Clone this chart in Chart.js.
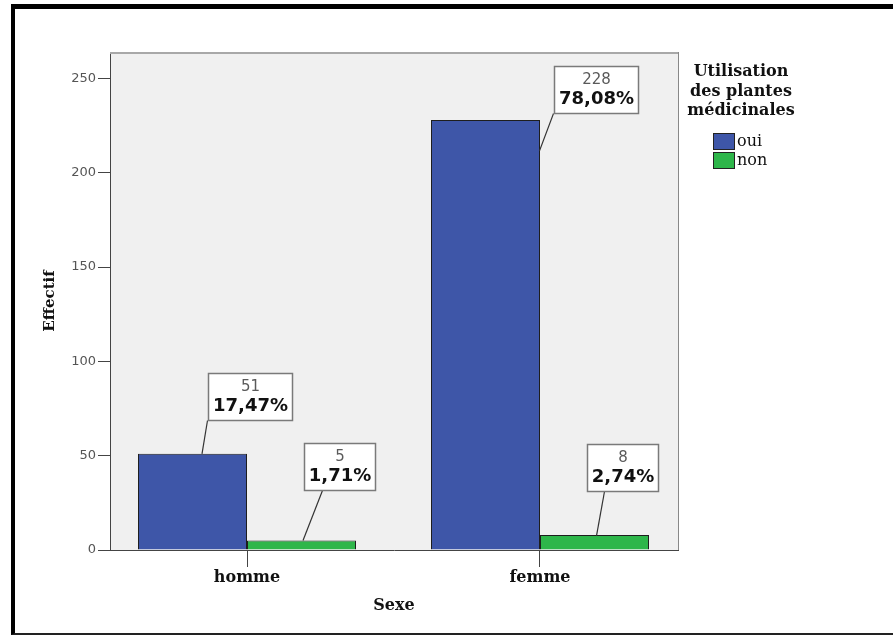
<!DOCTYPE html>
<html>
<head>
<meta charset="utf-8">
<script src="https://cdn.jsdelivr.net/npm/chart.js@4.4.1/dist/chart.umd.min.js"></script>
<style>
  html, body { margin: 0; padding: 0; background: #fff; }
  #wrap { position: relative; width: 893px; height: 637px; overflow: hidden; }
  #frame { position: absolute; left: 11px; top: 4px; width: 900px; height: 624px;
           border-top: 5px solid #000; border-left: 4px solid #000; border-bottom: 2px solid #222;
           pointer-events: none; }
  canvas { position: absolute; left: 0; top: 0; }
</style>
</head>
<body>
<div id="wrap">
  <canvas id="sexeChart" width="893" height="637"></canvas>
  <div id="frame"></div>
</div>
<script>
// data
const categories = ['homme', 'femme'];
const seriesNames = ['oui', 'non'];
const ouiCounts = [51, 228];
const nonCounts = [5, 8];
const ouiPercents = ['17,47%', '78,08%'];
const nonPercents = ['1,71%', '2,74%'];
const yTicks = [0, 50, 100, 150, 200, 250];
const legendTitle = ['Utilisation', 'des plantes', 'médicinales'];

// callout placement, relative to bar centre / bar top
// sx,sy = leader start, bx = box left, by = box bottom, ex = leader end (from box left)
const calloutLayout = [
    [{sx: 9.5, sy: 0, bx: 15.5, by: -34, ex: -1}, {sx: 54, sy: 31, bx: 68, by: -7, ex: -1}],
    [{sx: 1.5, sy: 0, bx: 2.5, by: -51, ex: 18}, {sx: 2, sy: 1, bx: -7, by: -44, ex: 17}]
];

const serifBold = {family: 'DejaVu Serif', size: 16, weight: 'bold'};

// grey plot background + frame
const plotBox = {
    id: 'plotBox',
    beforeDraw(chart) {
        const {ctx, chartArea: a} = chart;
        ctx.save();
        ctx.fillStyle = '#f0f0f0';
        ctx.fillRect(a.left, a.top, a.right - a.left, a.bottom - a.top);
        ctx.restore();
    },
    afterDatasetsDraw(chart) {
        const {ctx, chartArea: a} = chart;
        ctx.save();
        ctx.strokeStyle = '#a8a8a8';
        ctx.lineWidth = 2;
        ctx.beginPath();
        ctx.moveTo(a.left, a.top + 1);
        ctx.lineTo(a.right, a.top + 1);
        ctx.stroke();
        ctx.strokeStyle = '#888';
        ctx.lineWidth = 1;
        ctx.beginPath();
        ctx.moveTo(a.right + 0.5, a.top);
        ctx.lineTo(a.right + 0.5, a.bottom);
        ctx.stroke();
        ctx.restore();
    }
};

// count / percent boxes with leader lines
const callouts = {
    id: 'callouts',
    afterDatasetsDraw(chart) {
        const ctx = chart.ctx;
        ctx.save();
        chart.data.datasets.forEach((ds, di) => {
            const meta = chart.getDatasetMeta(di);
            const pcts = di === 0 ? ouiPercents : nonPercents;
            meta.data.forEach((bar, ci) => {
                const L = calloutLayout[di][ci];
                ctx.font = 'bold 18px "DejaVu Sans"';
                const w = Math.round(ctx.measureText(pcts[ci]).width) + 9;
                const h = 47;
                const bx = Math.round(bar.x + L.bx) + 0.5;
                const bBottom = Math.round(bar.y + L.by) + 0.5;
                const bTop = bBottom - h;

                ctx.strokeStyle = '#333';
                ctx.lineWidth = 1.2;
                ctx.beginPath();
                ctx.moveTo(bar.x + L.sx, bar.y + L.sy);
                ctx.lineTo(bx + L.ex, bBottom);
                ctx.stroke();

                ctx.fillStyle = '#fff';
                ctx.fillRect(bx, bTop, w, h);
                ctx.strokeStyle = '#7a7a7a';
                ctx.lineWidth = 1.5;
                ctx.strokeRect(bx, bTop, w, h);

                ctx.textAlign = 'center';
                ctx.textBaseline = 'middle';
                ctx.fillStyle = '#5a5a5a';
                ctx.font = '15px "DejaVu Sans"';
                ctx.fillText(String(ds.data[ci]), bx + w / 2, bTop + 14);
                ctx.fillStyle = '#111';
                ctx.font = 'bold 18px "DejaVu Sans"';
                ctx.fillText(pcts[ci], bx + w / 2, bTop + 33);
            });
        });
        ctx.restore();
    }
};

// legend on the right, SPSS style
const sideLegend = {
    id: 'sideLegend',
    afterDraw(chart) {
        const ctx = chart.ctx;
        ctx.save();
        ctx.fillStyle = '#111';
        ctx.textAlign = 'center';
        ctx.textBaseline = 'middle';
        ctx.font = 'bold 16px "DejaVu Serif"';
        legendTitle.forEach((line, i) => ctx.fillText(line, 741, 72 + i * 19.5));
        chart.data.datasets.forEach((ds, i) => {
            const y = 133 + i * 19;
            ctx.fillStyle = ds.backgroundColor;
            ctx.fillRect(713, y, 22, 17);
            ctx.strokeStyle = '#222';
            ctx.lineWidth = 1;
            ctx.strokeRect(713.5, y + 0.5, 21, 16);
            ctx.fillStyle = '#111';
            ctx.textAlign = 'left';
            ctx.font = '16px "DejaVu Serif"';
            ctx.fillText(ds.label, 737, y + 8.5);
        });
        ctx.restore();
    }
};

new Chart(document.getElementById('sexeChart'), {
    type: 'bar',
    data: {
        labels: categories,
        datasets: [{
            label: seriesNames[0],
            data: ouiCounts,
            backgroundColor: '#3e56a8',
            borderColor: '#1e1e1e',
            borderWidth: 1
        }, {
            label: seriesNames[1],
            data: nonCounts,
            backgroundColor: '#2eb64a',
            borderColor: '#1e1e1e',
            borderWidth: 1
        }]
    },
    options: {
        responsive: false,
        animation: false,
        categoryPercentage: 0.744,
        barPercentage: 1,
        layout: { padding: { left: 11, top: 52, right: 215, bottom: 0 } },
        plugins: {
            legend: { display: false },
            tooltip: { enabled: false }
        },
        scales: {
            x: {
                offset: true,
                // SPSS leaves the categories slightly off-centre in the frame
                afterBuildTicks(scale) { scale._startValue = -0.4676; scale._valueRange = 1.9386; },
                grid: { offset: false, drawOnChartArea: false, tickLength: 17, color: '#444' },
                border: { color: '#444', width: 1 },
                ticks: { font: serifBold, color: '#111', padding: 1 },
                title: { display: true, text: 'Sexe', font: serifBold, color: '#111', padding: { top: 0, bottom: 22 } },
                afterFit(scale) { scale.height = 87; }
            },
            y: {
                min: 0,
                max: 264,
                afterBuildTicks(scale) { scale.ticks = yTicks.map(v => ({ value: v })); },
                grid: { drawOnChartArea: false, tickLength: 12, color: '#444' },
                border: { color: '#444', width: 1 },
                ticks: { font: { family: 'DejaVu Sans', size: 13 }, color: '#555', padding: 2 },
                title: { display: true, text: 'Effectif', font: { family: 'DejaVu Serif', size: 15, weight: 'bold' }, color: '#111', padding: { top: 30, bottom: 0 } },
                afterFit(scale) { scale.width = 99; }
            }
        }
    },
    plugins: [plotBox, callouts, sideLegend]
});
</script>
</body>
</html>
